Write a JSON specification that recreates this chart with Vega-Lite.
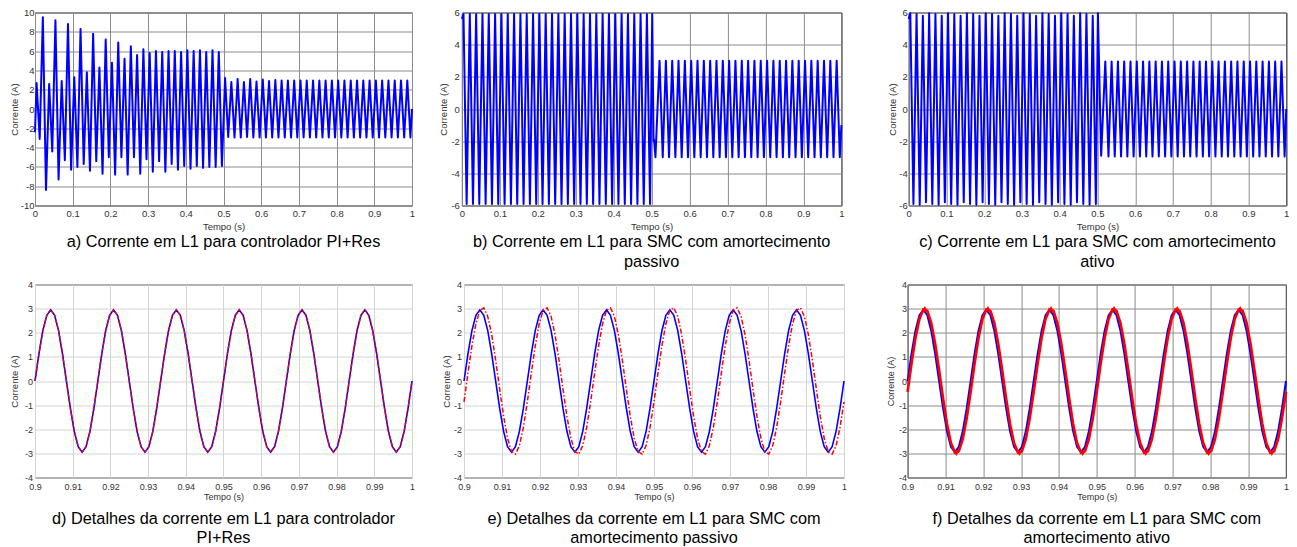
{
"$schema": "https://vega.github.io/schema/vega-lite/v6.json",
"padding": {"left": 8, "top": 6.5, "right": 0, "bottom": 0},
"background": "white",
"spacing": 9,
"datasets": {
"a": [{"t":0,"v":-2.4},
{"t":0.0042,"v":2.7},{"t":0.0125,"v":-3.1},{"t":0.0208,"v":9.5},{"t":0.0292,"v":-8.4},{"t":0.0375,"v":2.6},{"t":0.0458,"v":-4.4},{"t":0.0542,"v":9.2},{"t":0.0625,"v":-7.3},{"t":0.0708,"v":2.9},{"t":0.0792,"v":-5.3},{"t":0.0875,"v":8.8},{"t":0.0958,"v":-6.3},
{"t":0.1042,"v":3.3},{"t":0.1125,"v":-6.0},{"t":0.1208,"v":8.3},{"t":0.1292,"v":-5.7},{"t":0.1375,"v":3.8},{"t":0.1458,"v":-6.4},{"t":0.1542,"v":7.8},{"t":0.1625,"v":-5.4},{"t":0.1708,"v":4.3},{"t":0.1792,"v":-6.7},{"t":0.1875,"v":7.2},{"t":0.1958,"v":-5.0},
{"t":0.2042,"v":4.8},{"t":0.2125,"v":-6.8},{"t":0.2208,"v":6.9},{"t":0.2292,"v":-5.0},{"t":0.2375,"v":5.2},{"t":0.2458,"v":-6.8},{"t":0.2542,"v":6.5},{"t":0.2625,"v":-5.0},{"t":0.2708,"v":5.6},{"t":0.2792,"v":-6.7},{"t":0.2875,"v":6.2},{"t":0.2958,"v":-5.2},
{"t":0.3042,"v":5.8},{"t":0.3125,"v":-6.5},{"t":0.3208,"v":6.0},{"t":0.3292,"v":-5.4},{"t":0.3375,"v":5.9},{"t":0.3458,"v":-6.5},{"t":0.3542,"v":6.0},{"t":0.3625,"v":-5.7},{"t":0.3708,"v":6.0},{"t":0.3792,"v":-6.3},{"t":0.3875,"v":5.9},{"t":0.3958,"v":-5.9},
{"t":0.4042,"v":6.1},{"t":0.4125,"v":-6.2},{"t":0.4208,"v":6.0},{"t":0.4292,"v":-5.9},{"t":0.4375,"v":6.1},{"t":0.4458,"v":-6.1},{"t":0.4542,"v":5.9},{"t":0.4625,"v":-6.0},{"t":0.4708,"v":6.1},{"t":0.4792,"v":-6.0},{"t":0.4875,"v":5.9},{"t":0.4958,"v":-5.9},
{"t":0.5042,"v":3.2},{"t":0.5125,"v":-2.9},{"t":0.5208,"v":2.8},{"t":0.5292,"v":-2.95},{"t":0.5375,"v":3.1},{"t":0.5458,"v":-2.95},{"t":0.5542,"v":2.8},{"t":0.5625,"v":-2.9},{"t":0.5708,"v":3.1},{"t":0.5792,"v":-2.95},{"t":0.5875,"v":2.85},{"t":0.5958,"v":-2.95},
{"t":0.6042,"v":3.05},{"t":0.6125,"v":-2.95},{"t":0.6208,"v":2.9},{"t":0.6292,"v":-2.95},{"t":0.6375,"v":3.0},{"t":0.6458,"v":-2.95},{"t":0.6542,"v":2.95},{"t":0.6625,"v":-2.95},{"t":0.6708,"v":2.95},{"t":0.6792,"v":-2.95},{"t":0.6875,"v":2.95},{"t":0.6958,"v":-2.95},
{"t":0.7042,"v":2.95},{"t":0.7125,"v":-2.95},{"t":0.7208,"v":2.95},{"t":0.7292,"v":-2.95},{"t":0.7375,"v":2.95},{"t":0.7458,"v":-2.95},{"t":0.7542,"v":2.95},{"t":0.7625,"v":-2.95},{"t":0.7708,"v":2.95},{"t":0.7792,"v":-2.95},{"t":0.7875,"v":2.95},{"t":0.7958,"v":-2.95},
{"t":0.8042,"v":2.95},{"t":0.8125,"v":-2.95},{"t":0.8208,"v":2.95},{"t":0.8292,"v":-2.95},{"t":0.8375,"v":2.95},{"t":0.8458,"v":-2.95},{"t":0.8542,"v":2.95},{"t":0.8625,"v":-2.95},{"t":0.8708,"v":2.95},{"t":0.8792,"v":-2.95},{"t":0.8875,"v":2.95},{"t":0.8958,"v":-2.95},
{"t":0.9042,"v":2.95},{"t":0.9125,"v":-2.95},{"t":0.9208,"v":2.95},{"t":0.9292,"v":-2.95},{"t":0.9375,"v":2.95},{"t":0.9458,"v":-2.95},{"t":0.9542,"v":2.95},{"t":0.9625,"v":-2.95},{"t":0.9708,"v":2.95},{"t":0.9792,"v":-2.95},{"t":0.9875,"v":2.95},{"t":0.9958,"v":-2.95},
{"t":1,"v":0}],
"b": [{"t":0,"v":5.6},
{"t":0.0042,"v":5.9},{"t":0.0125,"v":-5.9},{"t":0.0208,"v":5.9},{"t":0.0292,"v":-5.9},{"t":0.0375,"v":5.9},{"t":0.0458,"v":-5.9},{"t":0.0542,"v":5.9},{"t":0.0625,"v":-5.9},{"t":0.0708,"v":5.9},{"t":0.0792,"v":-5.9},{"t":0.0875,"v":5.9},{"t":0.0958,"v":-5.9},
{"t":0.1042,"v":5.9},{"t":0.1125,"v":-5.9},{"t":0.1208,"v":5.9},{"t":0.1292,"v":-5.9},{"t":0.1375,"v":5.9},{"t":0.1458,"v":-5.9},{"t":0.1542,"v":5.9},{"t":0.1625,"v":-5.9},{"t":0.1708,"v":5.9},{"t":0.1792,"v":-5.9},{"t":0.1875,"v":5.9},{"t":0.1958,"v":-5.9},
{"t":0.2042,"v":5.9},{"t":0.2125,"v":-5.9},{"t":0.2208,"v":5.9},{"t":0.2292,"v":-5.9},{"t":0.2375,"v":5.9},{"t":0.2458,"v":-5.9},{"t":0.2542,"v":5.9},{"t":0.2625,"v":-5.9},{"t":0.2708,"v":5.9},{"t":0.2792,"v":-5.9},{"t":0.2875,"v":5.9},{"t":0.2958,"v":-5.9},
{"t":0.3042,"v":5.9},{"t":0.3125,"v":-5.9},{"t":0.3208,"v":5.9},{"t":0.3292,"v":-5.9},{"t":0.3375,"v":5.9},{"t":0.3458,"v":-5.9},{"t":0.3542,"v":5.9},{"t":0.3625,"v":-5.9},{"t":0.3708,"v":5.9},{"t":0.3792,"v":-5.9},{"t":0.3875,"v":5.9},{"t":0.3958,"v":-5.9},
{"t":0.4042,"v":5.9},{"t":0.4125,"v":-5.9},{"t":0.4208,"v":5.9},{"t":0.4292,"v":-5.9},{"t":0.4375,"v":5.9},{"t":0.4458,"v":-5.9},{"t":0.4542,"v":5.9},{"t":0.4625,"v":-5.9},{"t":0.4708,"v":5.9},{"t":0.4792,"v":-5.9},{"t":0.4875,"v":5.9},{"t":0.4958,"v":-5.9},
{"t":0.5015,"v":5.9},{"t":0.505,"v":-2.0},{"t":0.5062,"v":-1.9},{"t":0.51,"v":-3.0},{"t":0.5208,"v":3.0},{"t":0.5292,"v":-3.0},{"t":0.5375,"v":3.0},{"t":0.5458,"v":-3.0},{"t":0.5542,"v":3.0},{"t":0.5625,"v":-3.0},{"t":0.5708,"v":3.0},{"t":0.5792,"v":-3.0},{"t":0.5875,"v":3.0},{"t":0.5958,"v":-3.0},
{"t":0.6042,"v":3.0},{"t":0.6125,"v":-3.0},{"t":0.6208,"v":3.0},{"t":0.6292,"v":-3.0},{"t":0.6375,"v":3.0},{"t":0.6458,"v":-3.0},{"t":0.6542,"v":3.0},{"t":0.6625,"v":-3.0},{"t":0.6708,"v":3.0},{"t":0.6792,"v":-3.0},{"t":0.6875,"v":3.0},{"t":0.6958,"v":-3.0},
{"t":0.7042,"v":3.0},{"t":0.7125,"v":-3.0},{"t":0.7208,"v":3.0},{"t":0.7292,"v":-3.0},{"t":0.7375,"v":3.0},{"t":0.7458,"v":-3.0},{"t":0.7542,"v":3.0},{"t":0.7625,"v":-3.0},{"t":0.7708,"v":3.0},{"t":0.7792,"v":-3.0},{"t":0.7875,"v":3.0},{"t":0.7958,"v":-3.0},
{"t":0.8042,"v":3.0},{"t":0.8125,"v":-3.0},{"t":0.8208,"v":3.0},{"t":0.8292,"v":-3.0},{"t":0.8375,"v":3.0},{"t":0.8458,"v":-3.0},{"t":0.8542,"v":3.0},{"t":0.8625,"v":-3.0},{"t":0.8708,"v":3.0},{"t":0.8792,"v":-3.0},{"t":0.8875,"v":3.0},{"t":0.8958,"v":-3.0},
{"t":0.9042,"v":3.0},{"t":0.9125,"v":-3.0},{"t":0.9208,"v":3.0},{"t":0.9292,"v":-3.0},{"t":0.9375,"v":3.0},{"t":0.9458,"v":-3.0},{"t":0.9542,"v":3.0},{"t":0.9625,"v":-3.0},{"t":0.9708,"v":3.0},{"t":0.9792,"v":-3.0},{"t":0.9875,"v":3.0},{"t":0.9958,"v":-3.0},
{"t":1,"v":-1.0}],
"c": [{"t":0,"v":5.6},
{"t":0.0042,"v":5.95},{"t":0.0125,"v":-5.9},{"t":0.0208,"v":5.9},{"t":0.0292,"v":-5.95},{"t":0.0375,"v":5.8},{"t":0.0458,"v":-5.8},{"t":0.0542,"v":5.95},{"t":0.0625,"v":-5.9},{"t":0.0708,"v":5.9},{"t":0.0792,"v":-5.95},{"t":0.0875,"v":5.8},{"t":0.0958,"v":-5.8},
{"t":0.1042,"v":5.95},{"t":0.1125,"v":-5.9},{"t":0.1208,"v":5.9},{"t":0.1292,"v":-5.95},{"t":0.1375,"v":5.8},{"t":0.1458,"v":-5.8},{"t":0.1542,"v":5.95},{"t":0.1625,"v":-5.9},{"t":0.1708,"v":5.9},{"t":0.1792,"v":-5.95},{"t":0.1875,"v":5.8},{"t":0.1958,"v":-5.8},
{"t":0.2042,"v":5.95},{"t":0.2125,"v":-5.9},{"t":0.2208,"v":5.9},{"t":0.2292,"v":-5.95},{"t":0.2375,"v":5.8},{"t":0.2458,"v":-5.8},{"t":0.2542,"v":5.95},{"t":0.2625,"v":-5.9},{"t":0.2708,"v":5.9},{"t":0.2792,"v":-5.95},{"t":0.2875,"v":5.8},{"t":0.2958,"v":-5.8},
{"t":0.3042,"v":5.95},{"t":0.3125,"v":-5.9},{"t":0.3208,"v":5.9},{"t":0.3292,"v":-5.95},{"t":0.3375,"v":5.8},{"t":0.3458,"v":-5.8},{"t":0.3542,"v":5.95},{"t":0.3625,"v":-5.9},{"t":0.3708,"v":5.9},{"t":0.3792,"v":-5.95},{"t":0.3875,"v":5.8},{"t":0.3958,"v":-5.8},
{"t":0.4042,"v":5.95},{"t":0.4125,"v":-5.9},{"t":0.4208,"v":5.9},{"t":0.4292,"v":-5.95},{"t":0.4375,"v":5.8},{"t":0.4458,"v":-5.8},{"t":0.4542,"v":5.95},{"t":0.4625,"v":-5.9},{"t":0.4708,"v":5.9},{"t":0.4792,"v":-5.95},{"t":0.4875,"v":5.8},{"t":0.4958,"v":-5.9},
{"t":0.5012,"v":5.95},{"t":0.5098,"v":-2.9},{"t":0.5208,"v":2.95},{"t":0.5292,"v":-2.95},{"t":0.5375,"v":2.95},{"t":0.5458,"v":-2.95},{"t":0.5542,"v":2.95},{"t":0.5625,"v":-2.95},{"t":0.5708,"v":2.95},{"t":0.5792,"v":-2.95},{"t":0.5875,"v":2.95},{"t":0.5958,"v":-2.95},
{"t":0.6042,"v":2.95},{"t":0.6125,"v":-2.95},{"t":0.6208,"v":2.95},{"t":0.6292,"v":-2.95},{"t":0.6375,"v":2.95},{"t":0.6458,"v":-2.95},{"t":0.6542,"v":2.95},{"t":0.6625,"v":-2.95},{"t":0.6708,"v":2.95},{"t":0.6792,"v":-2.95},{"t":0.6875,"v":2.95},{"t":0.6958,"v":-2.95},
{"t":0.7042,"v":2.95},{"t":0.7125,"v":-2.95},{"t":0.7208,"v":2.95},{"t":0.7292,"v":-2.95},{"t":0.7375,"v":2.95},{"t":0.7458,"v":-2.95},{"t":0.7542,"v":2.95},{"t":0.7625,"v":-2.95},{"t":0.7708,"v":2.95},{"t":0.7792,"v":-2.95},{"t":0.7875,"v":2.95},{"t":0.7958,"v":-2.95},
{"t":0.8042,"v":2.95},{"t":0.8125,"v":-2.95},{"t":0.8208,"v":2.95},{"t":0.8292,"v":-2.95},{"t":0.8375,"v":2.95},{"t":0.8458,"v":-2.95},{"t":0.8542,"v":2.95},{"t":0.8625,"v":-2.95},{"t":0.8708,"v":2.95},{"t":0.8792,"v":-2.95},{"t":0.8875,"v":2.95},{"t":0.8958,"v":-2.95},
{"t":0.9042,"v":2.95},{"t":0.9125,"v":-2.95},{"t":0.9208,"v":2.95},{"t":0.9292,"v":-2.95},{"t":0.9375,"v":2.95},{"t":0.9458,"v":-2.95},{"t":0.9542,"v":2.95},{"t":0.9625,"v":-2.95},{"t":0.9708,"v":2.95},{"t":0.9792,"v":-2.95},{"t":0.9875,"v":2.95},{"t":0.9958,"v":-2.95},
{"t":1,"v":0}],
"bot": [
{"t":0.9,"b":0,"e":-0.862,"f":-0.448},{"t":0.90104,"b":1.129,"e":0.323,"f":0.721},{"t":0.90208,"b":2.086,"e":1.459,"f":1.781},{"t":0.90313,"b":2.725,"e":2.373,"f":2.569},{"t":0.90417,"b":2.95,"e":2.926,"f":2.966},{"t":0.90521,"b":2.725,"e":3.033,"f":2.912},{"t":0.90625,"b":2.086,"e":2.678,"f":2.415},{"t":0.90729,"b":1.129,"e":1.916,"f":1.549},{"t":0.90833,"b":0,"e":0.862,"f":0.448},{"t":0.90938,"b":-1.129,"e":-0.323,"f":-0.721},{"t":0.91042,"b":-2.086,"e":-1.459,"f":-1.781},{"t":0.91146,"b":-2.725,"e":-2.373,"f":-2.569},{"t":0.9125,"b":-2.95,"e":-2.926,"f":-2.966},{"t":0.91354,"b":-2.725,"e":-3.033,"f":-2.912},{"t":0.91458,"b":-2.086,"e":-2.678,"f":-2.415},{"t":0.91563,"b":-1.129,"e":-1.916,"f":-1.549},
{"t":0.91667,"b":0,"e":-0.862,"f":-0.448},{"t":0.91771,"b":1.129,"e":0.323,"f":0.721},{"t":0.91875,"b":2.086,"e":1.459,"f":1.781},{"t":0.91979,"b":2.725,"e":2.373,"f":2.569},{"t":0.92083,"b":2.95,"e":2.926,"f":2.966},{"t":0.92188,"b":2.725,"e":3.033,"f":2.912},{"t":0.92292,"b":2.086,"e":2.678,"f":2.415},{"t":0.92396,"b":1.129,"e":1.916,"f":1.549},{"t":0.925,"b":0,"e":0.862,"f":0.448},{"t":0.92604,"b":-1.129,"e":-0.323,"f":-0.721},{"t":0.92708,"b":-2.086,"e":-1.459,"f":-1.781},{"t":0.92813,"b":-2.725,"e":-2.373,"f":-2.569},{"t":0.92917,"b":-2.95,"e":-2.926,"f":-2.966},{"t":0.93021,"b":-2.725,"e":-3.033,"f":-2.912},{"t":0.93125,"b":-2.086,"e":-2.678,"f":-2.415},{"t":0.93229,"b":-1.129,"e":-1.916,"f":-1.549},
{"t":0.93333,"b":0,"e":-0.862,"f":-0.448},{"t":0.93438,"b":1.129,"e":0.323,"f":0.721},{"t":0.93542,"b":2.086,"e":1.459,"f":1.781},{"t":0.93646,"b":2.725,"e":2.373,"f":2.569},{"t":0.9375,"b":2.95,"e":2.926,"f":2.966},{"t":0.93854,"b":2.725,"e":3.033,"f":2.912},{"t":0.93958,"b":2.086,"e":2.678,"f":2.415},{"t":0.94063,"b":1.129,"e":1.916,"f":1.549},{"t":0.94167,"b":0,"e":0.862,"f":0.448},{"t":0.94271,"b":-1.129,"e":-0.323,"f":-0.721},{"t":0.94375,"b":-2.086,"e":-1.459,"f":-1.781},{"t":0.94479,"b":-2.725,"e":-2.373,"f":-2.569},{"t":0.94583,"b":-2.95,"e":-2.926,"f":-2.966},{"t":0.94688,"b":-2.725,"e":-3.033,"f":-2.912},{"t":0.94792,"b":-2.086,"e":-2.678,"f":-2.415},{"t":0.94896,"b":-1.129,"e":-1.916,"f":-1.549},
{"t":0.95,"b":0,"e":-0.862,"f":-0.448},{"t":0.95104,"b":1.129,"e":0.323,"f":0.721},{"t":0.95208,"b":2.086,"e":1.459,"f":1.781},{"t":0.95313,"b":2.725,"e":2.373,"f":2.569},{"t":0.95417,"b":2.95,"e":2.926,"f":2.966},{"t":0.95521,"b":2.725,"e":3.033,"f":2.912},{"t":0.95625,"b":2.086,"e":2.678,"f":2.415},{"t":0.95729,"b":1.129,"e":1.916,"f":1.549},{"t":0.95833,"b":0,"e":0.862,"f":0.448},{"t":0.95938,"b":-1.129,"e":-0.323,"f":-0.721},{"t":0.96042,"b":-2.086,"e":-1.459,"f":-1.781},{"t":0.96146,"b":-2.725,"e":-2.373,"f":-2.569},{"t":0.9625,"b":-2.95,"e":-2.926,"f":-2.966},{"t":0.96354,"b":-2.725,"e":-3.033,"f":-2.912},{"t":0.96458,"b":-2.086,"e":-2.678,"f":-2.415},{"t":0.96563,"b":-1.129,"e":-1.916,"f":-1.549},
{"t":0.96667,"b":0,"e":-0.862,"f":-0.448},{"t":0.96771,"b":1.129,"e":0.323,"f":0.721},{"t":0.96875,"b":2.086,"e":1.459,"f":1.781},{"t":0.96979,"b":2.725,"e":2.373,"f":2.569},{"t":0.97083,"b":2.95,"e":2.926,"f":2.966},{"t":0.97188,"b":2.725,"e":3.033,"f":2.912},{"t":0.97292,"b":2.086,"e":2.678,"f":2.415},{"t":0.97396,"b":1.129,"e":1.916,"f":1.549},{"t":0.975,"b":0,"e":0.862,"f":0.448},{"t":0.97604,"b":-1.129,"e":-0.323,"f":-0.721},{"t":0.97708,"b":-2.086,"e":-1.459,"f":-1.781},{"t":0.97813,"b":-2.725,"e":-2.373,"f":-2.569},{"t":0.97917,"b":-2.95,"e":-2.926,"f":-2.966},{"t":0.98021,"b":-2.725,"e":-3.033,"f":-2.912},{"t":0.98125,"b":-2.086,"e":-2.678,"f":-2.415},{"t":0.98229,"b":-1.129,"e":-1.916,"f":-1.549},
{"t":0.98333,"b":0,"e":-0.862,"f":-0.448},{"t":0.98438,"b":1.129,"e":0.323,"f":0.721},{"t":0.98542,"b":2.086,"e":1.459,"f":1.781},{"t":0.98646,"b":2.725,"e":2.373,"f":2.569},{"t":0.9875,"b":2.95,"e":2.926,"f":2.966},{"t":0.98854,"b":2.725,"e":3.033,"f":2.912},{"t":0.98958,"b":2.086,"e":2.678,"f":2.415},{"t":0.99063,"b":1.129,"e":1.916,"f":1.549},{"t":0.99167,"b":0,"e":0.862,"f":0.448},{"t":0.99271,"b":-1.129,"e":-0.323,"f":-0.721},{"t":0.99375,"b":-2.086,"e":-1.459,"f":-1.781},{"t":0.99479,"b":-2.725,"e":-2.373,"f":-2.569},{"t":0.99583,"b":-2.95,"e":-2.926,"f":-2.966},{"t":0.99688,"b":-2.725,"e":-3.033,"f":-2.912},{"t":0.99792,"b":-2.086,"e":-2.678,"f":-2.415},{"t":0.99896,"b":-1.129,"e":-1.916,"f":-1.549},
{"t":1.0,"b":0,"e":-0.862,"f":-0.448}],
"fm": [{"t":0.90457,"v":3.0},{"t":0.9129,"v":-3.0},{"t":0.92124,"v":3.0},{"t":0.92957,"v":-3.0},{"t":0.9379,"v":3.0},{"t":0.94624,"v":-3.0},{"t":0.95457,"v":3.0},{"t":0.9629,"v":-3.0},{"t":0.97124,"v":3.0},{"t":0.97957,"v":-3.0},{"t":0.9879,"v":3.0},{"t":0.99624,"v":-3.0}]
},
"vconcat": [
{"spacing": 41.7, "hconcat": [
 {"spacing": 20.9, "hconcat": [
  {"width": 377, "height": 193, "data": {"name": "a"},
   "mark": {"type": "line", "color": "#0000ff", "strokeWidth": 2, "strokeJoin": "round"},
   "encoding": {
    "x": {"field": "t", "type": "quantitative", "scale": {"domain": [0, 1], "nice": false}, "axis": {"title": "Tempo (s)", "format": "~f", "values": [0,0.1,0.2,0.3,0.4,0.5,0.6,0.7,0.8,0.9,1]}},
    "y": {"field": "v", "type": "quantitative", "scale": {"domain": [-10, 10], "nice": false}, "axis": {"title": "Corrente (A)", "format": "~f", "values": [-10,-8,-6,-4,-2,0,2,4,6,8,10], "labelPadding": 1, "titlePadding": 1}}
   },
   "title": {"text": ["a) Corrente em L1 para controlador PI+Res"]}
  },
  {"width": 379.5, "height": 193, "data": {"name": "b"},
   "mark": {"type": "line", "color": "#0000ff", "strokeWidth": 2, "strokeJoin": "round"},
   "encoding": {
    "x": {"field": "t", "type": "quantitative", "scale": {"domain": [0, 1], "nice": false}, "axis": {"title": "Tempo (s)", "format": "~f", "values": [0,0.1,0.2,0.3,0.4,0.5,0.6,0.7,0.8,0.9,1]}},
    "y": {"field": "v", "type": "quantitative", "scale": {"domain": [-6, 6], "nice": false}, "axis": {"title": "Corrente (A)", "format": "~f", "values": [-6,-4,-2,0,2,4,6], "labelPadding": 2.5, "titlePadding": 2.7}}
   },
   "title": {"text": ["b) Corrente em L1 para SMC com amortecimento", "passivo"]}
  }
 ]},
 {"width": 377.5, "height": 193, "data": {"name": "c"},
  "mark": {"type": "line", "color": "#0000ff", "strokeWidth": 2, "strokeJoin": "round"},
  "encoding": {
   "x": {"field": "t", "type": "quantitative", "scale": {"domain": [0, 1], "nice": false}, "axis": {"title": "Tempo (s)", "format": "~f", "values": [0,0.1,0.2,0.3,0.4,0.5,0.6,0.7,0.8,0.9,1]}},
   "y": {"field": "v", "type": "quantitative", "scale": {"domain": [-6, 6], "nice": false}, "axis": {"title": "Corrente (A)", "format": "~f", "values": [-6,-4,-2,0,2,4,6], "labelPadding": 1.5, "titlePadding": 1.3}}
  },
  "title": {"text": ["c) Corrente em L1 para SMC com amortecimento", "ativo"]}
 }
]},
{"spacing": 37.6, "hconcat": [
 {"spacing": 25, "hconcat": [
  {"width": 377, "height": 193, "data": {"name": "bot"},
   "encoding": {"x": {"field": "t", "type": "quantitative", "scale": {"domain": [0.9, 1], "nice": false}, "axis": {"title": "Tempo (s)", "format": "~f", "values": [0.9,0.91,0.92,0.93,0.94,0.95,0.96,0.97,0.98,0.99,1], "labelFontSize": 9, "titleFontSize": 9, "labelPadding": 5, "titlePadding": 1, "gridColor": "#d4d4d4"}}},
   "layer": [
    {"mark": {"type": "line", "color": "#0000ff", "strokeWidth": 1.6}, "encoding": {"y": {"field": "b", "type": "quantitative", "scale": {"domain": [-4, 4], "nice": false}, "axis": {"title": "Corrente (A)", "format": "~f", "values": [-4,-3,-2,-1,0,1,2,3,4], "labelFontSize": 9, "titleFontSize": 9.5, "labelPadding": 2.5, "titlePadding": 4.5, "gridColor": "#d4d4d4"}}}},
    {"mark": {"type": "line", "color": "#ff0000", "strokeWidth": 1.4, "strokeDash": [3, 2]}, "encoding": {"y": {"field": "b", "type": "quantitative", "axis": {"title": "Corrente (A)", "format": "~f", "values": [-4,-3,-2,-1,0,1,2,3,4], "labelFontSize": 9, "titleFontSize": 9.5, "labelPadding": 2.5, "titlePadding": 4.5, "gridColor": "#d4d4d4"}}}}
   ],
   "title": {"text": ["d) Detalhes da corrente em L1 para controlador", "PI+Res"], "lineHeight": 19, "offset": 9}
  },
  {"width": 380, "height": 193, "data": {"name": "bot"},
   "encoding": {"x": {"field": "t", "type": "quantitative", "scale": {"domain": [0.9, 1], "nice": false}, "axis": {"title": "Tempo (s)", "format": "~f", "values": [0.9,0.91,0.92,0.93,0.94,0.95,0.96,0.97,0.98,0.99,1], "labelFontSize": 9, "titleFontSize": 9, "labelPadding": 5, "titlePadding": 1, "gridColor": "#d4d4d4"}}},
   "layer": [
    {"mark": {"type": "line", "color": "#0000ff", "strokeWidth": 1.6}, "encoding": {"y": {"field": "b", "type": "quantitative", "scale": {"domain": [-4, 4], "nice": false}, "axis": {"title": "Corrente (A)", "format": "~f", "values": [-4,-3,-2,-1,0,1,2,3,4], "labelFontSize": 9, "titleFontSize": 9.5, "labelPadding": 2.5, "titlePadding": 1.7, "gridColor": "#d4d4d4"}}}},
    {"mark": {"type": "line", "color": "#ff0000", "strokeWidth": 1.5, "strokeDash": [5, 2, 1.5, 2]}, "encoding": {"y": {"field": "e", "type": "quantitative", "axis": {"title": "Corrente (A)", "format": "~f", "values": [-4,-3,-2,-1,0,1,2,3,4], "labelFontSize": 9, "titleFontSize": 9.5, "labelPadding": 2.5, "titlePadding": 1.7, "gridColor": "#d4d4d4"}}}}
   ],
   "title": {"text": ["e) Detalhes da corrente em L1 para SMC com", "amortecimento passivo"], "lineHeight": 19, "offset": 9}
  }
 ]},
 {"width": 378.4, "height": 193, "data": {"name": "bot"},
  "encoding": {"x": {"field": "t", "type": "quantitative", "scale": {"domain": [0.9, 1], "nice": false}, "axis": {"title": "Tempo (s)", "format": "~f", "values": [0.9,0.91,0.92,0.93,0.94,0.95,0.96,0.97,0.98,0.99,1], "labelFontSize": 9, "titleFontSize": 9, "labelPadding": 5, "titlePadding": 1}}},
  "layer": [
   {"mark": {"type": "line", "color": "#0000ff", "strokeWidth": 2}, "encoding": {"y": {"field": "b", "type": "quantitative", "scale": {"domain": [-4, 4], "nice": false}, "axis": {"title": "Corrente (A)", "format": "~f", "values": [-4,-3,-2,-1,0,1,2,3,4], "labelFontSize": 9, "titleFontSize": 9, "labelPadding": 1, "titlePadding": 3}}}},
   {"mark": {"type": "line", "color": "#ff0000", "strokeWidth": 2.6}, "encoding": {"y": {"field": "f", "type": "quantitative", "axis": {"title": "Corrente (A)", "format": "~f", "values": [-4,-3,-2,-1,0,1,2,3,4], "labelFontSize": 9, "titleFontSize": 9, "labelPadding": 1, "titlePadding": 3}}}},
   {"data": {"name": "fm"}, "mark": {"type": "point", "filled": true, "color": "#ff0000", "size": 35, "opacity": 1}, "encoding": {"y": {"field": "v", "type": "quantitative", "axis": {"title": "Corrente (A)", "format": "~f", "values": [-4,-3,-2,-1,0,1,2,3,4], "labelFontSize": 9, "titleFontSize": 9, "labelPadding": 1, "titlePadding": 3}}, "shape": {"condition": {"test": "datum.v > 0", "value": "triangle-up"}, "value": "triangle-down"}}}
  ],
  "title": {"text": ["f) Detalhes da corrente em L1 para SMC com", "amortecimento ativo"], "lineHeight": 19, "offset": 9}
 }
]}
],
"config": {
 "locale": {"number": {"decimal": ".", "thousands": ",", "grouping": [3], "currency": ["$", ""], "minus": "-"}},
 "font": "Liberation Sans",
 "view": {"stroke": "#262626", "strokeWidth": 1},
 "axis": {"domain": false, "ticks": false, "labelFlush": false, "labelOverlap": false, "labelFont": "Liberation Sans", "titleFont": "Liberation Sans", "labelFontSize": 9.5, "titleFontSize": 9.5, "labelColor": "#333333", "titleColor": "#333333", "titleFontWeight": "normal", "gridColor": "#8c8c8c", "gridOpacity": 1, "gridWidth": 1, "labelPadding": 3, "titlePadding": 3},
 "title": {"orient": "bottom", "anchor": "middle", "frame": "group", "font": "Liberation Sans", "fontSize": 16.3, "fontWeight": "normal", "color": "#000000", "offset": 3, "lineHeight": 20}
}
}
